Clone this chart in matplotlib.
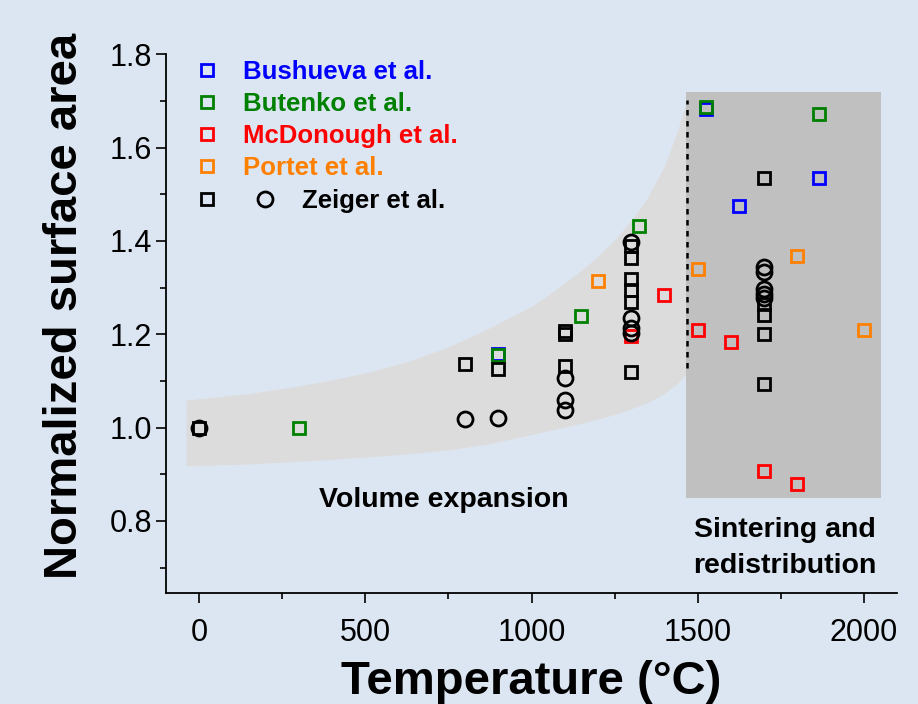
import matplotlib
matplotlib.use("Agg")
import matplotlib.pyplot as plt
from matplotlib.lines import Line2D
from matplotlib.legend_handler import HandlerTuple
from matplotlib.patches import Rectangle

plt.rcParams['font.family'] = ['Liberation Sans', 'DejaVu Sans']

# data
bushueva_T = [900, 1525, 1625, 1865]
bushueva_S = [1.158, 1.682, 1.475, 1.534]

butenko_T = [300, 900, 1150, 1325, 1525, 1865]
butenko_S = [1.0, 1.155, 1.240, 1.432, 1.687, 1.672]

mcdonough_T = [1300, 1400, 1500, 1600, 1700, 1800]
mcdonough_S = [1.197, 1.285, 1.209, 1.184, 0.907, 0.879]

portet_T = [1200, 1500, 1800, 2000]
portet_S = [1.314, 1.340, 1.367, 1.209]

zeiger_sq_T = [0, 800, 900, 1100, 1100, 1100, 1300, 1300, 1300, 1300, 1300, 1300,
               1700, 1700, 1700, 1700, 1700]
zeiger_sq_S = [1.0, 1.136, 1.126, 1.207, 1.200, 1.132, 1.390, 1.364, 1.318, 1.295, 1.270, 1.118,
               1.534, 1.265, 1.241, 1.200, 1.093]

zeiger_ci_T = [0, 800, 900, 1100, 1100, 1100, 1300, 1300, 1300, 1300,
               1700, 1700, 1700, 1700, 1700]
zeiger_ci_S = [1.0, 1.018, 1.021, 1.107, 1.059, 1.038, 1.398, 1.235, 1.213, 1.202,
               1.345, 1.334, 1.296, 1.286, 1.277]

# shaded "volume expansion" band, edges
band_T = [-40, 150, 280, 400, 510, 630, 750, 870, 1000, 1050, 1100, 1150, 1200, 1250,
          1300, 1350, 1400, 1440, 1467]
band_hi = [1.059, 1.073, 1.087, 1.102, 1.119, 1.142, 1.173, 1.212, 1.260, 1.284, 1.310, 1.337,
           1.367, 1.402, 1.443, 1.494, 1.560, 1.637, 1.702]
band_lo = [0.918, 0.922, 0.927, 0.932, 0.937, 0.944, 0.952, 0.965, 0.985, 0.993, 1.001, 1.009,
           1.018, 1.028, 1.040, 1.054, 1.073, 1.095, 1.117]

# "sintering" region
sint_T = [1464, 2051]
sint_S = [0.849, 1.719]

bg = '#dce6f2'
fig = plt.figure(figsize=(9.18, 7.04), dpi=100, facecolor=bg)
ax = fig.add_axes([0.181, 0.158, 0.796, 0.765], facecolor=bg)

ax.fill_between(band_T, band_lo, band_hi, color='#dcdcdc', lw=0, zorder=1)
ax.add_patch(Rectangle((sint_T[0], sint_S[0]), sint_T[1] - sint_T[0], sint_S[1] - sint_S[0],
                       color='#c0c0c0', lw=0, zorder=1))
ax.plot([band_T[-1], band_T[-1]], [1.128, band_hi[-1]], color='black', lw=1.8,
        ls=(0, (2.2, 2.2)), zorder=2)

sq = dict(marker='s', ms=9.3, mew=2.0, mfc='none', ls='none')
ci = dict(marker='o', ms=10.8, mew=2.0, mfc='none', ls='none')

ax.plot(bushueva_T, bushueva_S, mec='#0000ff', zorder=3, **sq)
ax.plot(butenko_T, butenko_S, mec='#008000', zorder=4, **sq)
ax.plot(mcdonough_T, mcdonough_S, mec='#ff0000', zorder=5, **sq)
ax.plot(portet_T, portet_S, mec='#ff8000', zorder=6, **sq)
ax.plot(zeiger_sq_T, zeiger_sq_S, mec='black', zorder=7, **sq)
ax.plot(zeiger_ci_T, zeiger_ci_S, mec='black', zorder=7, **ci)

ax.set_xlim(-100, 2100)
ax.set_ylim(0.646, 1.8)
ax.set_xticks([0, 500, 1000, 1500, 2000])
ax.set_xticks([250, 750, 1250, 1750], minor=True)
ax.set_yticks([0.8, 1.0, 1.2, 1.4, 1.6, 1.8])
ax.set_yticklabels(['0.8', '1.0', '1.2', '1.4', '1.6', '1.8'])
ax.set_yticks([0.7, 0.9, 1.1, 1.3, 1.5, 1.7], minor=True)
ax.tick_params(which='major', direction='out', length=7, width=1.2, labelsize=22)
ax.tick_params(which='minor', direction='out', length=4, width=1.2)
ax.tick_params(axis='x', which='major', pad=11)
ax.tick_params(axis='y', which='major', pad=3)
for s in ['top', 'right']:
    ax.spines[s].set_visible(False)
for s in ['left', 'bottom']:
    ax.spines[s].set_linewidth(1.3)

ax.set_xlabel('Temperature (°C)', fontsize=34, fontweight='bold', labelpad=9)
ax.set_ylabel('Normalized surface area', fontsize=34, fontweight='bold')
ax.yaxis.set_label_coords(-0.108, 0.532)

ax.text(735, 0.830, 'Volume expansion', fontsize=20.5, fontweight='bold',
        ha='center', va='baseline', zorder=8)
ax.text(1762, 0.766, 'Sintering and', fontsize=20.5, fontweight='bold',
        ha='center', va='baseline', zorder=8)
ax.text(1762, 0.689, 'redistribution', fontsize=20.5, fontweight='bold',
        ha='center', va='baseline', zorder=8)

# legend
lp = {'weight': 'bold', 'size': 18.5}
names = ['Bushueva et al.', 'Butenko et al.', 'McDonough et al.', 'Portet et al.']
cols = ['#0000ff', '#008000', '#ff0000', '#ff8000']
hs = [Line2D([], [], mec=c, **sq) for c in cols]
leg1 = ax.legend(hs, names, loc='upper left', bbox_to_anchor=(0.038, 0.99),
                 frameon=False, prop=lp, labelcolor=cols, handlelength=1.0,
                 handletextpad=0.9, borderpad=0, borderaxespad=0, labelspacing=0.32)
ax.add_artist(leg1)
zh = (Line2D([], [], mec='black', **sq), Line2D([], [], mec='black', **ci))
ax.legend([zh], ['Zeiger et al.'], handler_map={tuple: HandlerTuple(ndivide=None, pad=0)},
          loc='center left', bbox_to_anchor=(0.0165, 0.727), frameon=False, prop=lp,
          handlelength=4.5, handletextpad=0.3, borderpad=0, borderaxespad=0)

fig.savefig('out.png', dpi=100, facecolor=bg)
